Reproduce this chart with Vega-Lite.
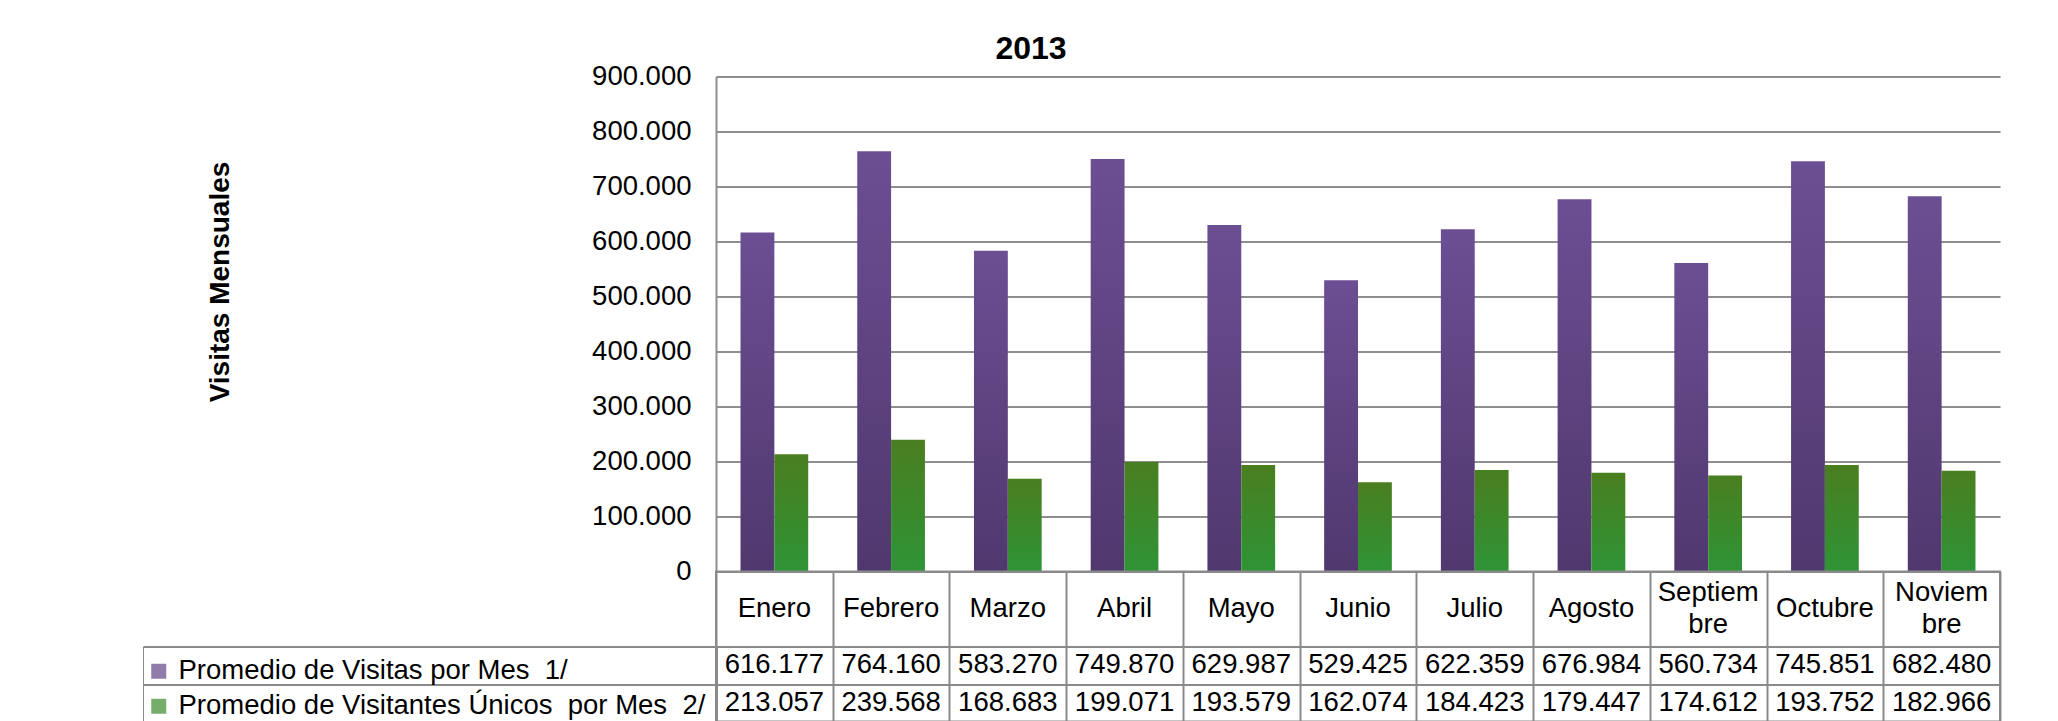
{
  "$schema": "https://vega.github.io/schema/vega-lite/v6.json",
  "padding": {"left": 141, "top": 32.5, "right": 20, "bottom": 0},
  "background": "white",
  "config": {
    "font": "Liberation Sans",
    "locale": {"number": {"decimal": ",", "thousands": ".", "grouping": [3], "currency": ["$", ""]}},
    "view": {"stroke": null},
    "axis": {"labelFont": "Liberation Sans", "labelColor": "black"}
  },
  "title": {"text": "2013", "fontSize": 32, "fontWeight": "bold", "font": "Liberation Sans", "color": "black", "anchor": "middle", "frame": "bounds", "dx": -40, "offset": -3.5},
  "datasets": {
    "visitas": [
      {"mes": "Enero", "serie": "Promedio de Visitas por Mes\u00a0\u00a01/", "valor": 616177},
      {"mes": "Febrero", "serie": "Promedio de Visitas por Mes\u00a0\u00a01/", "valor": 764160},
      {"mes": "Marzo", "serie": "Promedio de Visitas por Mes\u00a0\u00a01/", "valor": 583270},
      {"mes": "Abril", "serie": "Promedio de Visitas por Mes\u00a0\u00a01/", "valor": 749870},
      {"mes": "Mayo", "serie": "Promedio de Visitas por Mes\u00a0\u00a01/", "valor": 629987},
      {"mes": "Junio", "serie": "Promedio de Visitas por Mes\u00a0\u00a01/", "valor": 529425},
      {"mes": "Julio", "serie": "Promedio de Visitas por Mes\u00a0\u00a01/", "valor": 622359},
      {"mes": "Agosto", "serie": "Promedio de Visitas por Mes\u00a0\u00a01/", "valor": 676984},
      {"mes": "Septiembre", "serie": "Promedio de Visitas por Mes\u00a0\u00a01/", "valor": 560734},
      {"mes": "Octubre", "serie": "Promedio de Visitas por Mes\u00a0\u00a01/", "valor": 745851},
      {"mes": "Noviembre", "serie": "Promedio de Visitas por Mes\u00a0\u00a01/", "valor": 682480},
      {"mes": "Enero", "serie": "Promedio de Visitantes Únicos\u00a0\u00a0por Mes\u00a0\u00a02/", "valor": 213057},
      {"mes": "Febrero", "serie": "Promedio de Visitantes Únicos\u00a0\u00a0por Mes\u00a0\u00a02/", "valor": 239568},
      {"mes": "Marzo", "serie": "Promedio de Visitantes Únicos\u00a0\u00a0por Mes\u00a0\u00a02/", "valor": 168683},
      {"mes": "Abril", "serie": "Promedio de Visitantes Únicos\u00a0\u00a0por Mes\u00a0\u00a02/", "valor": 199071},
      {"mes": "Mayo", "serie": "Promedio de Visitantes Únicos\u00a0\u00a0por Mes\u00a0\u00a02/", "valor": 193579},
      {"mes": "Junio", "serie": "Promedio de Visitantes Únicos\u00a0\u00a0por Mes\u00a0\u00a02/", "valor": 162074},
      {"mes": "Julio", "serie": "Promedio de Visitantes Únicos\u00a0\u00a0por Mes\u00a0\u00a02/", "valor": 184423},
      {"mes": "Agosto", "serie": "Promedio de Visitantes Únicos\u00a0\u00a0por Mes\u00a0\u00a02/", "valor": 179447},
      {"mes": "Septiembre", "serie": "Promedio de Visitantes Únicos\u00a0\u00a0por Mes\u00a0\u00a02/", "valor": 174612},
      {"mes": "Octubre", "serie": "Promedio de Visitantes Únicos\u00a0\u00a0por Mes\u00a0\u00a02/", "valor": 193752},
      {"mes": "Noviembre", "serie": "Promedio de Visitantes Únicos\u00a0\u00a0por Mes\u00a0\u00a02/", "valor": 182966}
    ],
    "meses": [
      {"mes": "Enero", "etiqueta": "Enero"},
      {"mes": "Febrero", "etiqueta": "Febrero"},
      {"mes": "Marzo", "etiqueta": "Marzo"},
      {"mes": "Abril", "etiqueta": "Abril"},
      {"mes": "Mayo", "etiqueta": "Mayo"},
      {"mes": "Junio", "etiqueta": "Junio"},
      {"mes": "Julio", "etiqueta": "Julio"},
      {"mes": "Agosto", "etiqueta": "Agosto"},
      {"mes": "Septiembre", "etiqueta": "Septiem\nbre"},
      {"mes": "Octubre", "etiqueta": "Octubre"},
      {"mes": "Noviembre", "etiqueta": "Noviem\nbre"}
    ]
  },
  "spacing": 0,
  "bounds": "flush",
  "vconcat": [
    {
      "width": 1284,
      "height": 495,
      "data": {"name": "visitas"},
      "encoding": {
        "x": {"field": "mes", "type": "nominal", "scale": {"domain": ["Enero", "Febrero", "Marzo", "Abril", "Mayo", "Junio", "Julio", "Agosto", "Septiembre", "Octubre", "Noviembre"], "paddingInner": 0.42, "paddingOuter": 0.21}, "axis": null},
        "xOffset": {"field": "serie", "type": "nominal", "scale": {"domain": ["Promedio de Visitas por Mes\u00a0\u00a01/", "Promedio de Visitantes Únicos\u00a0\u00a0por Mes\u00a0\u00a02/"], "paddingInner": 0, "paddingOuter": 0}},
        "y": {"field": "valor", "type": "quantitative", "scale": {"domain": [0, 900000], "nice": false},
          "axis": {"values": [0, 100000, 200000, 300000, 400000, 500000, 600000, 700000, 800000, 900000], "format": ",d",
            "title": "Visitas Mensuales", "titleFontSize": 28, "titleFontWeight": "bold", "titleFont": "Liberation Sans", "titleColor": "black",
            "titleAngle": 270, "titleX": -496, "titleY": 205, "titleAlign": "center", "titleBaseline": "middle",
            "labelFontSize": 27.5, "labelPadding": 25, "ticks": false, "tickSize": 0,
            "grid": true, "gridColor": "#8e8e8e", "gridWidth": 2, "domainColor": "#8e8e8e", "domainWidth": 2}}
      },
      "layer": [
        {"transform": [{"filter": {"field": "serie", "equal": "Promedio de Visitas por Mes\u00a0\u00a01/"}}],
         "mark": {"type": "bar", "color": {"gradient": "linear", "x1": 0, "y1": 0, "x2": 0, "y2": 1, "stops": [{"offset": 0, "color": "#6C4E93"}, {"offset": 1, "color": "#50386E"}]}}},
        {"transform": [{"filter": {"field": "serie", "equal": "Promedio de Visitantes Únicos\u00a0\u00a0por Mes\u00a0\u00a02/"}}],
         "mark": {"type": "bar", "color": {"gradient": "linear", "x1": 0, "y1": 0, "x2": 0, "y2": 1, "stops": [{"offset": 0, "color": "#4A7E20"}, {"offset": 1, "color": "#2E9436"}]}}}
      ]
    },
    {
      "width": 1284,
      "height": 150,
      "view": {"stroke": "#8a8a8a", "strokeWidth": 2},
      "encoding": {
        "x": {"field": "mes", "type": "nominal", "scale": {"domain": ["Enero", "Febrero", "Marzo", "Abril", "Mayo", "Junio", "Julio", "Agosto", "Septiembre", "Octubre", "Noviembre"], "paddingInner": 0, "paddingOuter": 0},
          "axis": {"title": null, "labels": false, "ticks": false, "domain": false, "grid": true, "tickBand": "extent", "gridColor": "#8a8a8a", "gridWidth": 2}}
      },
      "layer": [
        {
          "data": {"name": "meses"},
          "transform": [{"filter": {"not": {"field": "mes", "oneOf": ["Septiembre", "Noviembre"]}}}],
          "mark": {"type": "text", "fontSize": 27.5, "baseline": "middle", "align": "center", "color": "black", "dy": 18.75},
          "encoding": {
            "y": {"datum": "h1", "type": "nominal",
              "scale": {"domain": ["h1", "h2", "Promedio de Visitas por Mes\u00a0\u00a01/", "Promedio de Visitantes Únicos\u00a0\u00a0por Mes\u00a0\u00a02/"], "paddingInner": 0, "paddingOuter": 0},
              "axis": {"orient": "left", "title": null, "labels": false, "domain": false, "grid": true, "tickBand": "extent",
                "gridColor": "#8a8a8a", "gridWidth": 2,
                "gridOpacity": {"condition": {"test": "datum.value === 'h1'", "value": 0}, "value": 1},
                "ticks": true, "tickSize": 573, "tickWidth": 2, "tickColor": "#8a8a8a",
                "tickOpacity": {"condition": {"test": "datum.value === 'h2' || datum.value === 'Promedio de Visitas por Mes\u00a0\u00a01/'", "value": 1}, "value": 0}}},
            "text": {"field": "etiqueta"}
          }
        },
        {
          "data": {"name": "meses"},
          "transform": [{"filter": {"field": "mes", "oneOf": ["Septiembre", "Noviembre"]}}],
          "mark": {"type": "text", "fontSize": 27.5, "lineBreak": "\n", "lineHeight": 32, "baseline": "middle", "align": "center", "color": "black", "dy": 2.25},
          "encoding": {
            "y": {"datum": "h1", "type": "nominal"},
            "text": {"field": "etiqueta"}
          }
        },
        {
          "data": {"name": "visitas"},
          "mark": {"type": "text", "fontSize": 27.5, "baseline": "middle", "align": "center", "color": "black"},
          "encoding": {
            "y": {"field": "serie", "type": "nominal"},
            "text": {"field": "valor", "type": "quantitative", "format": ","}
          }
        },
        {
          "data": {"name": "visitas"},
          "mark": {"type": "square", "size": 0},
          "encoding": {
            "y": {"field": "serie", "type": "nominal"},
            "color": {"field": "serie", "type": "nominal",
              "scale": {"domain": ["Promedio de Visitas por Mes\u00a0\u00a01/", "Promedio de Visitantes Únicos\u00a0\u00a0por Mes\u00a0\u00a02/"], "range": ["#5F4485", "#3D8A2B"]},
              "legend": {"orient": "none", "legendX": -573, "legendY": 570, "title": null, "symbolType": "square", "symbolSize": 225,
                "symbolStrokeWidth": 0, "symbolOffset": -9, "labelFontSize": 27.5, "labelFont": "Liberation Sans", "labelColor": "black", "labelLimit": 1000,
                "labelOffset": 6, "padding": 11, "columnPadding": 0, "rowPadding": 6, "strokeColor": "#8a8a8a"}}
          }
        }
      ]
    }
  ]
}
